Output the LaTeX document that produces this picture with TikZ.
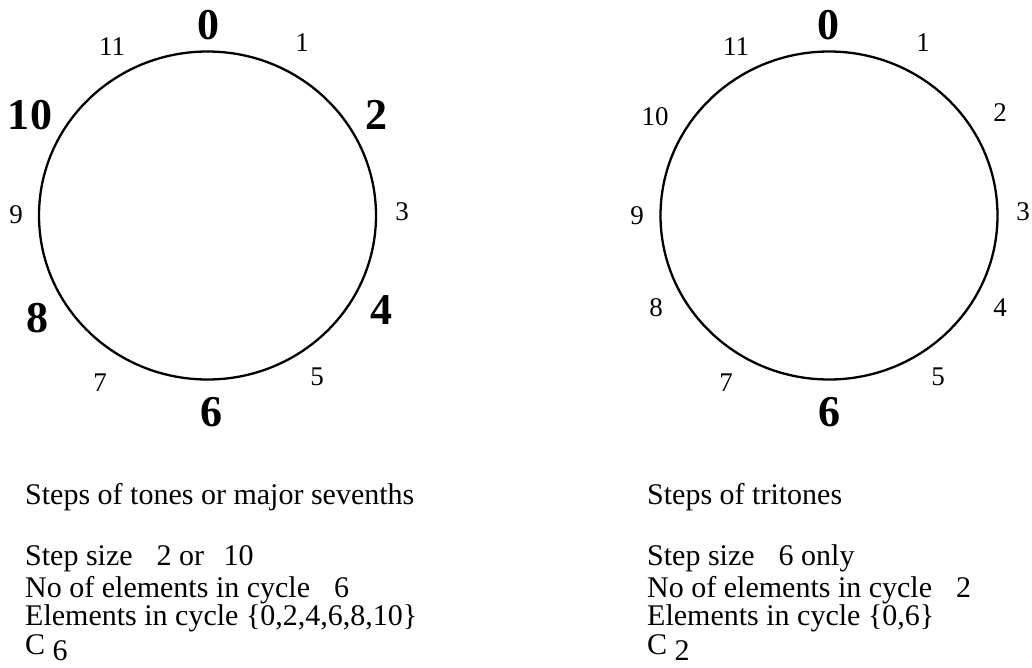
\documentclass[tikz,border=0pt]{standalone}
\usepackage{fontspec}
\setmainfont{Liberation Serif}
\usetikzlibrary{positioning,shapes.geometric}
\tikzset{
  % ringar
  ring/.style={ellipse,draw=black,line width=2.3pt,inner sep=0pt,
               minimum width=337pt,minimum height=328pt},
  pc/.style={font=\fontsize{27}{30}\selectfont,inner sep=1pt},
  pcb/.style={font=\fontsize{44}{48}\selectfont\bfseries,inner sep=1pt},
  % text
  tx/.style={font=\fontsize{30}{30}\selectfont,anchor=base west,inner sep=0pt},
}
\begin{document}
\begin{tikzpicture}[x=1pt,y=-1pt]
  \useasboundingbox (0,0) rectangle (1032,667);
  % vänster ring
  \node[ring] (cl) at (207.5,215.5) {};
  \node[pcb] (l0) at (208,25) {0};
  \node[pc] (l1) at (302,43) {1};
  \node[pcb] (l2) at (376,115) {2};
  \node[pc] (l3) at (402,212) {3};
  \node[pcb] (l4) at (381,310) {4};
  \node[pc] (l5) at (317,377) {5};
  \node[pcb] (l6) at (211,412) {6};
  \node[pc] (l7) at (100,383) {7};
  \node[pcb] (l8) at (37,318) {8};
  \node[pc] (l9) at (16,215) {9};
  \node[pcb] (l10) at (30,115) {10};
  \node[pc] (l11) at (112,47) {11};
  % höger ring
  \node[ring] (cr) at (829,215.5) {};
  \node[pcb] (r0) at (828,25) {0};
  \node[pc] (r1) at (923,43) {1};
  \node[pc] (r2) at (1000,113) {2};
  \node[pc] (r3) at (1023,212) {3};
  \node[pc] (r4) at (1000,308) {4};
  \node[pc] (r5) at (938,377) {5};
  \node[pcb] (r6) at (829,412) {6};
  \node[pc] (r7) at (726,383) {7};
  \node[pc] (r8) at (656,308) {8};
  \node[pc] (r9) at (637,216) {9};
  \node[pc] (r10) at (655,117) {10};
  \node[pc] (r11) at (736,47) {11};
  % beskrivningar
  \node[tx] (tl1) at (25,504) {Steps of tones or major sevenths};
  \node[tx] (tl2) at (25,565) {Step size\hspace{0.8em}2 or\hspace{0.65em}10};
  \node[tx] (tl3) at (25,597) {No of elements in cycle\hspace{0.8em}6};
  \node[tx] (tl4) at (25,625) {Elements in cycle \{0,2,4,6,8,10\}};
  \node[tx] (tl5) at (25,654) {C \raisebox{-6pt}{6}};
  \node[tx] (tr1) at (647,504) {Steps of tritones};
  \node[tx] (tr2) at (647,565) {Step size\hspace{0.8em}6 only};
  \node[tx] (tr3) at (647,597) {No of elements in cycle\hspace{0.8em}2};
  \node[tx] (tr4) at (647,625) {Elements in cycle \{0,6\}};
  \node[tx] (tr5) at (647,654) {C \raisebox{-6pt}{2}};
\end{tikzpicture}
\end{document}
